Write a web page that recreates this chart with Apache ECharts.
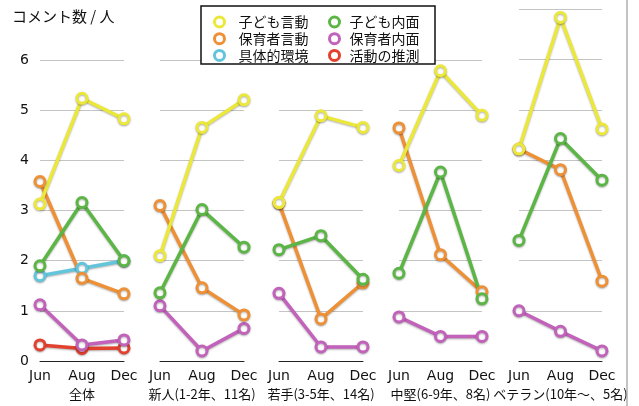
<!DOCTYPE html>
<html><head><meta charset="utf-8">
<script src="https://cdn.jsdelivr.net/npm/echarts@6/dist/echarts.min.js"></script>
<style>html,body{margin:0;padding:0;background:#fff}#c{width:639px;height:406px}</style>
</head><body><div id="c"></div>
<script>
const months = ['Jun', 'Aug', 'Dec'];
const groups = ['全体', '新人(1-2年、11名)', '若手(3-5年、14名)', '中堅(6-9年、8名)', 'ベテラン(10年〜、5名)'];
const yTicks = [0, 1, 2, 3, 4, 5, 6];
// values per group: [Jun, Aug, Dec]
const kodomoGendo   = [[3.13, 5.24, 4.83], [2.10, 4.66, 5.21], [3.16, 4.89, 4.66], [3.90, 5.79, 4.90], [4.22, 6.84, 4.62]];
const kodomoNaimen  = [[1.90, 3.16, 2.00], [1.36, 3.02, 2.27], [2.22, 2.50, 1.63], [1.75, 3.77, 1.24], [2.40, 4.43, 3.60]];
const hoikuGendo    = [[3.58, 1.65, 1.34], [3.10, 1.46, 0.92], [3.15, 0.84, 1.56], [4.65, 2.12, 1.38], [4.22, 3.81, 1.59]];
const hoikuNaimen   = [[1.12, 0.32, 0.42], [1.10, 0.20, 0.65], [1.35, 0.28, 0.28], [0.88, 0.49, 0.49], [1.00, 0.59, 0.20]];
const gutaiKankyo   = [[1.70, 1.85, 2.00], null, null, null, null];
const katsudoSuisoku= [[0.32, 0.25, 0.26], null, null, null, null];

const seriesDefs = [
  {name: '活動の推測', data: katsudoSuisoku, color: '#e2412e'},
  {name: '保育者内面', data: hoikuNaimen, color: '#c262bb'},
  {name: '具体的環境', data: gutaiKankyo, color: '#62c5dc'},
  {name: '保育者言動', data: hoikuGendo, color: '#ee9035'},
  {name: '子ども内面', data: kodomoNaimen, color: '#5cb646'},
  {name: '子ども言動', data: kodomoGendo, color: '#ebe83a'}
];
const colorOf = {};
seriesDefs.forEach(s => colorOf[s.name] = s.color);

const panelLeft = [40, 160, 279, 399, 519];
const panelWidth = [84, 84, 84, 83, 83];
const unit = 50.8, zeroY = 365;
const panelMax = [6, 6, 6, 6, 7];

const FONT = '"DejaVu Sans", sans-serif';
const JFONT = '"Noto Sans CJK JP", sans-serif';

const grids = [], xAxes = [], yAxes = [], series = [];
for (let g = 0; g < 5; g++) {
  grids.push({left: panelLeft[g], width: panelWidth[g], top: zeroY - panelMax[g] * unit, bottom: 406 - zeroY});
  xAxes.push({
    type: 'category', gridIndex: g, data: months, boundaryGap: false,
    axisLine: {show: true, lineStyle: {color: '#222', width: 1}},
    axisTick: {show: false},
    axisLabel: {color: '#111', fontSize: 14, fontFamily: FONT, margin: 8, interval: 0},
    name: groups[g], nameLocation: 'middle', nameGap: 27,
    nameTextStyle: {color: '#111', fontSize: 13, fontFamily: JFONT}
  });
  yAxes.push({
    type: 'value', gridIndex: g, min: 0, max: panelMax[g], interval: 1,
    axisLine: {show: false}, axisTick: {show: false},
    axisLabel: {show: g === 0, color: '#111', fontSize: 14, fontFamily: FONT, margin: 11,
      formatter: v => yTicks.indexOf(v) >= 0 ? String(v) : ''},
    splitLine: {show: true, lineStyle: {color: '#c4c4c4', width: 1}}
  });
  seriesDefs.forEach(s => {
    if (!s.data[g]) return;
    series.push({
      type: 'line', name: s.name, xAxisIndex: g, yAxisIndex: g,
      data: s.data[g], symbol: 'circle', symbolSize: 10,
      lineStyle: {color: s.color, width: 3.5, shadowBlur: 2, shadowColor: 'rgba(0,0,0,0.3)', shadowOffsetY: 1},
      itemStyle: {color: '#fff', borderColor: s.color, borderWidth: 3, shadowBlur: 2, shadowColor: 'rgba(0,0,0,0.3)', shadowOffsetY: 1},
      emphasis: {disabled: true}, animation: false
    });
  });
}

function legendItems(names) {
  return names.map(n => ({name: n, icon: 'circle',
    itemStyle: {color: '#fff', borderColor: colorOf[n], borderWidth: 3}}));
}
const legendBase = {
  orient: 'vertical', top: 15, itemGap: 2.7, itemWidth: 10, itemHeight: 10, padding: 0, z: 20,
  selectedMode: false,
  textStyle: {color: '#111', fontSize: 14, fontFamily: JFONT, lineHeight: 14}
};

const chart = echarts.init(document.getElementById('c'), null, {renderer: 'canvas'});
chart.setOption({
  animation: false,
  backgroundColor: '#fff',
  grid: grids, xAxis: xAxes, yAxis: yAxes, series: series,
  legend: [
    Object.assign({}, legendBase, {left: 213, data: legendItems(['子ども言動', '保育者言動', '具体的環境']),
      textStyle: Object.assign({}, legendBase.textStyle, {padding: [0, 0, 0, 9]})}),
    Object.assign({}, legendBase, {left: 328, data: legendItems(['子ども内面', '保育者内面', '活動の推測']),
      textStyle: Object.assign({}, legendBase.textStyle, {padding: [0, 0, 0, 5]})})
  ],
  graphic: [
    {type: 'rect', z: 10, shape: {x: 201, y: 6, width: 234, height: 58},
      style: {fill: '#fff', stroke: '#111', lineWidth: 1.5}},
    {type: 'line', z: 10, shape: {x1: 627, y1: 0, x2: 627, y2: 406},
      style: {stroke: '#888', lineWidth: 1}},
    {type: 'text', z: 10, left: 12, top: 9,
      style: {text: 'コメント数 / 人', fill: '#111', font: '15px "Noto Sans CJK JP", sans-serif'}}
  ]
});
</script></body></html>
